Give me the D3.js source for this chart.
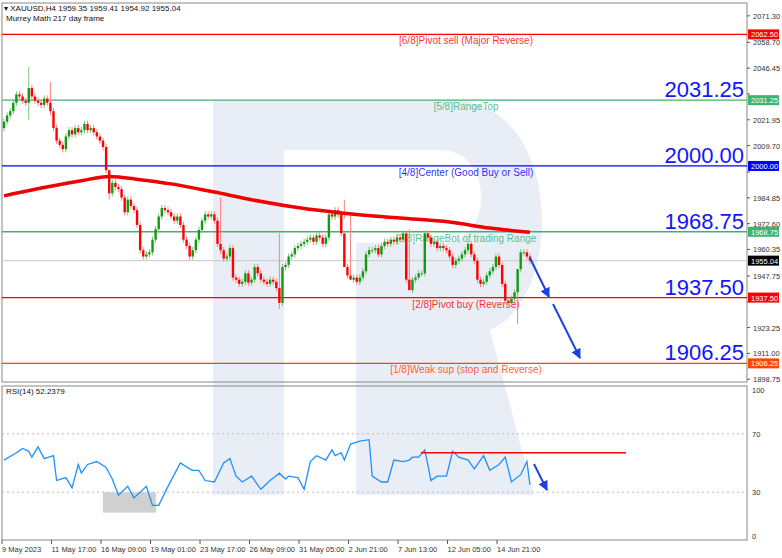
<!DOCTYPE html>
<html>
<head>
<meta charset="utf-8">
<script src="https://cdn.jsdelivr.net/npm/d3@7"></script>
<style>
  body { margin: 0; background: #fff; }
  svg { display: block; font-family: "Liberation Sans", Arial, sans-serif; }
</style>
</head>
<body>
<svg id="chart" width="782" height="558"></svg>
<script>
// H4 closes (open = previous close)
const closes = [
  2021,2024,2026,2030,2034,2033,2031,2030,2037,2033,2031,2030,2029,2032,2030,2026,
  2018,2012,2010,2008,2014,2017,2015,2018,2016,2017,2020,2017,2018,2016,2014,2012,
  2009,1998,1987,1992,1990,1989,1985,1978,1984,1981,1979,1972,1960,1957,1958,1959,
  1965,1970,1976,1980,1979,1978,1976,1974,1976,1972,1965,1962,1957,1960,1965,1969.6,
  1974,1977,1976,1977,1974,1963,1960,1956,1957,1961,1947,1946,1944,1945,1949,1944.6,
  1946,1952,1949,1946,1945,1944,1946,1945,1942,1935,1952,1953,1957,1958,1961,1962,
  1963,1964,1965,1966,1964,1967,1966,1963,1966,1977,1976,1979,1977,1968,1952,1948,
  1946,1947,1945,1947,1950,1958,1960,1960,1961,1958,1962,1964,1963,1965,1964,1966,
  1965,1968,1946,1941,1946,1947,1949,1949,1968,1966,1963,1964,1961,1962,1961,1960,
  1957,1953,1955,1956,1958,1960,1963,1958,1955,1946,1944,1945,1948,1950,1952,1957,
  1953,1944,1936,1935,1937,1940,1951,1959,1959,1957,1955.04
];
const firstOpen = 2018;
// notable wicks: [bar, high, low]
const spikes = [[8, 2047, 2022], [15, 2040, 2024], [34, 1996, 1984], [70, 1985, 1958],
  [89, 1968, 1932], [110, 1984, 1975], [112, 1978, 1948], [131, 1970, 1944], [166, 1945, 1925]];

const maBars = [0, 12, 25, 34, 44, 54, 68, 80, 96, 109, 128, 144, 157, 170];
const maValues = [1985.8, 1989.5, 1993, 1995, 1993.5, 1991.5, 1987.6, 1984, 1980, 1977.7, 1975.3, 1973.4, 1970.5, 1968.5];

const rsiBars = [0,4,6,8,9,11,13,16,17,20,22,24,25,27,30,33,35,37,40,42,46,48,50,53,57,60,61,63,65,68,71,73,75,77,80,
  83,86,89,91,92,95,97,99,101,104,106,107,109,110,112,115,118,119,122,124,126,129,131,132,134,136,138,140,143,145,147,150,
  152,155,157,160,162,164,167,169,170];
const rsiValues = [52,57,60,58,54,61,53,55,38,40,33,49,43,49,51,47,39,28,34,26,34,21,21,34,50,46,45,45,38,37,50,53,41,
  37,41,32,38,43,39,41,40,32,51,55,52,59,55,57,52,63,65,66,41,37,37,52,51,52,54,54,59,38,41,41,58,54,52,46,55,45,49,54,
  37,42,51,35,38,54,55,52];

const levels = [
  {v: 2062.5, name: "[6/8]Pivot sell (Major Reverse)", color: "#ff0000", big: false},
  {v: 2031.25, name: "[5/8]RangeTop", color: "#3cb371", big: true},
  {v: 2000.0, name: "[4/8]Center (Good Buy or Sell)", color: "#0000ff", big: true},
  {v: 1968.75, name: "[3/8]RangeBot of trading Range", color: "#3cb371", big: true},
  {v: 1937.5, name: "[2/8]Pivot buy (Reverse)", color: "#ff0000", big: true},
  {v: 1906.25, name: "[1/8]Weak sup (stop and Reverse)", color: "#ff4500", big: true}
];
const priceTicks = [2071.30, 2058.70, 2046.45, 2034.20, 2021.95, 2009.70, 1997.10, 1984.85, 1972.60,
  1960.35, 1947.75, 1935.50, 1923.25, 1911.00, 1898.75];
const timeLabels = ["9 May 2023", "11 May 17:00", "16 May 09:00", "19 May 01:00", "23 May 17:00", "26 May 09:00",
  "31 May 05:00", "2 Jun 21:00", "7 Jun 13:00", "12 Jun 05:00", "14 Jun 21:00"];
const rsiTicks = [100, 70, 30, 0];
const lastPrice = 1955.04;

const svg = d3.select("#chart");
const L = 2, R = 747;
const x = d3.scaleLinear().domain([0, 170]).range([4, 530]);
const y = d3.scaleLinear().domain([1897.4, 2077.4]).range([382, 3]);
const yr = d3.scaleLinear().domain([0, 100]).range([536, 390]);

const defs = svg.append("defs");
defs.append("marker").attr("id", "ah").attr("viewBox", "0 0 10 10").attr("refX", 9).attr("refY", 5)
    .attr("markerWidth", 5).attr("markerHeight", 5).attr("orient", "auto")
  .append("path").attr("d", "M0,0L10,5L0,10z").attr("fill", "#1f3fe0");

// watermark
svg.append("path")
    .attr("d", "M213,100H450C565,100 565,300 490,330L534,495H356V243H284V495H213Z M284,150H440C495,150 495,243 440,243H284Z")
    .attr("fill", "#e9eef6").attr("fill-rule", "evenodd");

// panels
svg.append("rect").attr("x", L).attr("y", 3).attr("width", R - L).attr("height", 379)
    .attr("fill", "none").attr("stroke", "#888");
svg.append("rect").attr("x", L).attr("y", 386).attr("width", R - L).attr("height", 154)
    .attr("fill", "none").attr("stroke", "#888");

// current price line
svg.append("line").attr("x1", L).attr("x2", R).attr("y1", y(lastPrice)).attr("y2", y(lastPrice))
    .attr("stroke", "#c8c8c8");

// levels
const lv = svg.append("g").selectAll("g").data(levels).join("g");
lv.append("line").attr("x1", L).attr("x2", R).attr("y1", d => y(d.v)).attr("y2", d => y(d.v))
    .attr("stroke", d => d.color).attr("stroke-width", 1.3);
lv.append("text").attr("x", 466).attr("y", d => y(d.v) + 10).attr("text-anchor", "middle")
    .attr("font-size", 10).attr("fill", d => d.color).attr("fill-opacity", 0.85).text(d => d.name);
lv.filter(d => d.big).append("text").attr("x", 744).attr("y", d => y(d.v) - 3).attr("text-anchor", "end")
    .attr("font-size", 22).attr("fill", "#1414ff").text(d => d.v.toFixed(2));

// candles
const spikeMap = new Map(spikes.map(s => [s[0], s]));
const candles = closes.map((c, i) => {
  const o = i === 0 ? firstOpen : closes[i - 1];
  const s = spikeMap.get(i);
  return {i, o, c, h: s ? s[1] : Math.max(o, c) + 1.5, l: s ? s[2] : Math.min(o, c) - 1.5};
});
const cg = svg.append("g").selectAll("g").data(candles).join("g");
cg.append("line").attr("x1", d => x(d.i)).attr("x2", d => x(d.i))
    .attr("y1", d => y(d.h)).attr("y2", d => y(d.l))
    .attr("stroke", d => d.c >= d.o ? "#7cc47c" : "#ff8080").attr("stroke-width", 1);
cg.append("rect").attr("x", d => x(d.i) - 1.2).attr("width", 2.4)
    .attr("y", d => y(Math.max(d.o, d.c))).attr("height", d => Math.max(1, Math.abs(y(d.o) - y(d.c))))
    .attr("fill", d => d.c >= d.o ? "#129a12" : "#ff0000");

// moving average
svg.append("path").datum(maBars.map((b, k) => [b, maValues[k]]))
    .attr("d", d3.line().x(d => x(d[0])).y(d => y(d[1])).curve(d3.curveMonotoneX))
    .attr("fill", "none").attr("stroke", "#f00000").attr("stroke-width", 3.5);

// arrows
svg.append("line").attr("x1", 530).attr("y1", 258).attr("x2", 549).attr("y2", 297)
    .attr("stroke", "#1f3fe0").attr("stroke-width", 2).attr("marker-end", "url(#ah)");
svg.append("line").attr("x1", 553).attr("y1", 304).attr("x2", 580).attr("y2", 358)
    .attr("stroke", "#1f3fe0").attr("stroke-width", 2).attr("marker-end", "url(#ah)");

// right price axis (skip tick labels hidden behind a badge)
const badges = levels.map(d => ({v: d.v, color: d.color})).concat([{v: lastPrice, color: "#000"}]);
const shown = priceTicks.filter(t => !badges.some(b => Math.abs(y(b.v) - y(t)) < 8));
const ax = svg.append("g").attr("font-size", 7.5).attr("fill", "#333");
ax.selectAll("text").data(shown).join("text").attr("x", 753).attr("y", d => y(d) + 3).text(d => d.toFixed(2));
ax.selectAll("line").data(priceTicks).join("line").attr("x1", R).attr("x2", R + 3)
    .attr("y1", d => y(d)).attr("y2", d => y(d)).attr("stroke", "#555");
const bg = svg.append("g").selectAll("g").data(badges).join("g");
bg.append("rect").attr("x", 748).attr("y", d => y(d.v) - 5).attr("width", 31).attr("height", 10)
    .attr("fill", d => d.color);
bg.append("text").attr("x", 751).attr("y", d => y(d.v) + 3).attr("font-size", 7.5).attr("fill", "#fff")
    .text(d => d.v.toFixed(2));

// header
svg.append("text").attr("x", 4).attr("y", 11).attr("font-size", 8).attr("fill", "#111")
    .text("\u25BE XAUUSD,H4  1959.35 1959.41 1954.92 1955.04");
svg.append("text").attr("x", 6).attr("y", 21).attr("font-size", 8).attr("fill", "#111")
    .text("Murrey Math 217 day frame");

// RSI
svg.append("text").attr("x", 6).attr("y", 394).attr("font-size", 8).attr("fill", "#111").text("RSI(14) 52.2379");
svg.selectAll(".rg").data([70, 30]).join("line").attr("x1", L).attr("x2", R)
    .attr("y1", d => yr(d)).attr("y2", d => yr(d)).attr("stroke", "#bbb").attr("stroke-dasharray", "2,3");
svg.append("g").attr("font-size", 7.5).attr("fill", "#333").selectAll("text").data(rsiTicks).join("text")
    .attr("x", 752).attr("y", d => yr(d) + 3).text(d => d);
svg.append("rect").attr("x", 103).attr("y", yr(30)).attr("width", 53).attr("height", yr(16) - yr(30))
    .attr("fill", "#d0d0d0");
svg.append("path").datum(rsiBars.map((b, k) => [b, rsiValues[k]]))
    .attr("d", d3.line().x(d => x(d[0])).y(d => yr(d[1])))
    .attr("fill", "none").attr("stroke", "#1e90ff").attr("stroke-width", 1.3);
svg.append("line").attr("x1", 421).attr("x2", 626).attr("y1", yr(57)).attr("y2", yr(57))
    .attr("stroke", "#ff0000").attr("stroke-width", 1.5);
svg.append("line").attr("x1", 534).attr("y1", 464).attr("x2", 547).attr("y2", 490)
    .attr("stroke", "#1f3fe0").attr("stroke-width", 2).attr("marker-end", "url(#ah)");

// time axis
const tg = svg.append("g").selectAll("g").data(timeLabels).join("g")
    .attr("transform", (d, k) => `translate(${x(k * 16) - 2},0)`);
tg.append("line").attr("y1", 540).attr("y2", 544).attr("stroke", "#555");
tg.append("text").attr("x", 0).attr("y", 552).attr("font-size", 7.5).attr("fill", "#333").text(d => d);
</script>
</body>
</html>
